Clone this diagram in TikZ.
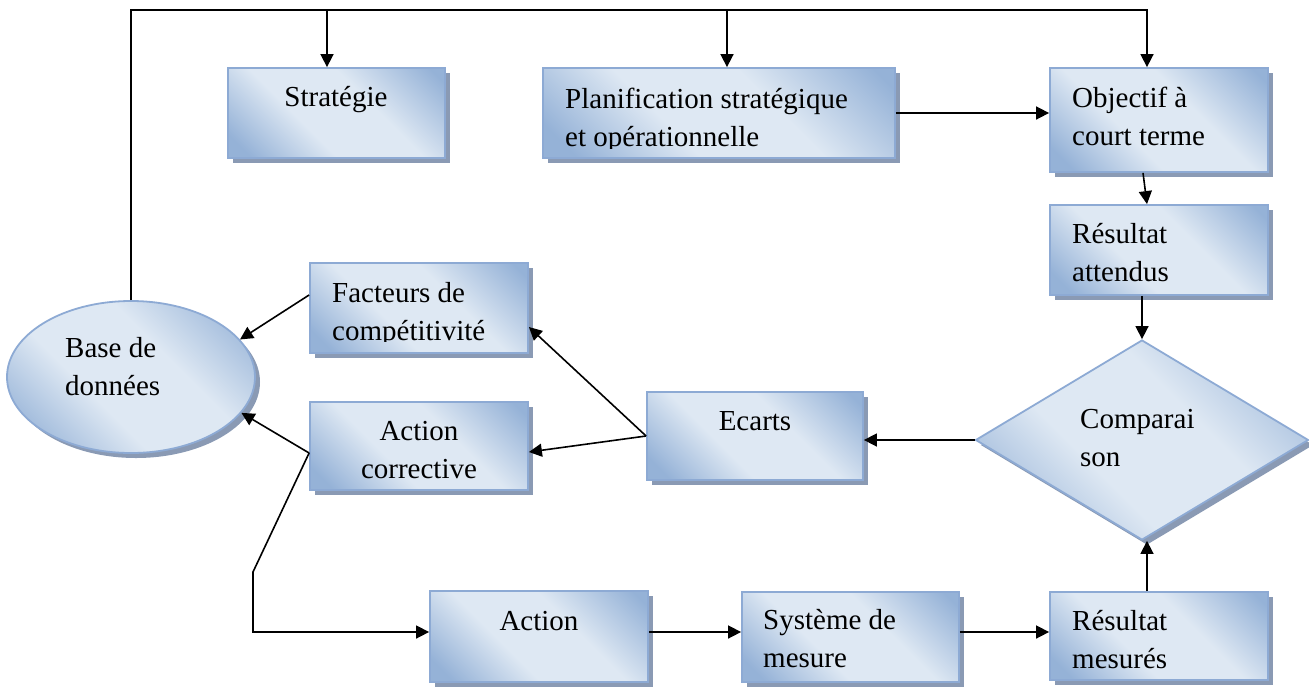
\documentclass[tikz,border=0pt]{standalone}
\usepackage{fontspec}
\setmainfont{Liberation Serif}
\usetikzlibrary{arrows.meta,shapes.geometric,shadows}

\definecolor{boxdark}{RGB}{149,178,215}
\definecolor{boxlight}{RGB}{222,232,243}
\definecolor{boxline}{RGB}{141,170,212}
\definecolor{boxshadow}{RGB}{138,154,180}

% diagonal fill: darker corners, light band through the middle
\pgfdeclarehorizontalshading{boxfade}{100bp}{color(0bp)=(boxdark); color(20bp)=(boxdark); color(40bp)=(boxlight); color(60bp)=(boxlight); color(82bp)=(boxdark); color(100bp)=(boxdark)}

\tikzset{
  shapebase/.style={draw=boxline, line width=1.8pt, shading=boxfade, shading angle=45,
    drop shadow={shadow xshift=5pt, shadow yshift=-5pt, fill=boxshadow, opacity=1},
    inner sep=0pt},
  stepbox/.style={shapebase, rectangle},
  txt/.style={inner sep=0pt, font=\fontsize{29}{38.5}\selectfont, align=left, anchor=north west},
  ctxt/.style={txt, align=center, anchor=north},
  link/.style={line width=1.6pt, -{Triangle[length=13pt,width=13pt]}},
}

\begin{document}
\begin{tikzpicture}[x=1pt,y=-1pt]
\useasboundingbox (0,0) rectangle (1309,686);

% ---- shapes ----
\node[stepbox, minimum width=217pt, minimum height=90pt] (strat) at (336.5,113) {};
\node[stepbox, minimum width=352pt, minimum height=90pt] (plan) at (719,113) {};
\node[stepbox, minimum width=218pt, minimum height=104pt] (obj) at (1159,120) {};
\node[stepbox, minimum width=218pt, minimum height=90pt] (ratt) at (1159,250) {};
\node[stepbox, minimum width=218pt, minimum height=90pt] (fac) at (419,308) {};
\node[stepbox, minimum width=218pt, minimum height=88pt] (acor) at (419,446) {};
\node[stepbox, minimum width=216pt, minimum height=88pt] (eca) at (755,436) {};
\node[stepbox, minimum width=218pt, minimum height=91pt] (act) at (539,636.5) {};
\node[stepbox, minimum width=217pt, minimum height=90pt] (sys) at (850.5,637) {};
\node[stepbox, minimum width=218pt, minimum height=88pt] (rmes) at (1159,636) {};
\node[shapebase, ellipse, minimum width=248pt, minimum height=152pt] (base) at (131,377) {};
\node[shapebase, diamond, minimum width=333pt, minimum height=200pt] (cmp) at (1142,440) {};

% ---- labels ----
\node[ctxt] (strat-t) at (336,79) {\strut Stratégie};
\begin{scope}
  \clip (543,68) rectangle (895,148);
  \node[txt] (plan-t) at (565,81) {\strut Planification stratégique\\et opérationnelle};
\end{scope}
\node[txt] (obj-t) at (1072,80) {\strut Objectif à\\court terme};
\node[txt] (ratt-t) at (1072,216) {\strut Résultat\\attendus};
\begin{scope}
  \clip (310,263) rectangle (528,341);
  \node[txt] (fac-t) at (332,275) {\strut Facteurs de\\compétitivité};
\end{scope}
\node[ctxt] (acor-t) at (419,413) {\strut Action\\corrective};
\node[ctxt] (eca-t) at (755,403) {\strut Ecarts};
\node[ctxt] (act-t) at (539,603) {\strut Action};
\node[txt] (sys-t) at (763,602) {\strut Système de\\mesure};
\node[txt] (rmes-t) at (1072,603) {\strut Résultat\\mesurés};
\node[txt] (base-t) at (65,330) {\strut Base de\\données};
\node[txt] (cmp-t) at (1080,401) {\strut Comparai\\son};

% ---- connectors ----
\coordinate (topR) at (1147,10);
\coordinate (dStrat) at (327,10);
\coordinate (dPlan) at (727,10);
\coordinate (bend) at (253,572);
\coordinate (actIn) at ([yshift=4.5pt]act.west);
\coordinate (actOut) at ([yshift=4.5pt]act.east);

\draw[link] (base.north) |- (topR) -- (topR |- obj.north);
\draw[link] (dStrat) -- (dStrat |- strat.north);
\draw[link] (dPlan) -- (dPlan |- plan.north);
\draw[link] (plan.east) -- (plan.east -| obj.west);
\draw[link] ([xshift=-16pt]obj.south) -- ([xshift=-12pt]ratt.north);
\draw[link] (ratt.south -| cmp.north) -- (cmp.north);
\draw[link] ([xshift=5pt]rmes.north -| cmp.south) -- ([xshift=5pt]cmp.south);
\draw[link] (cmp.west) -- (cmp.west -| eca.east);
\draw[link] (eca.west) -- ([yshift=-19pt]fac.east);
\draw[link] (eca.west) -- ([yshift=-6pt]acor.east);
\draw[link] ([yshift=13pt]fac.west) -- (base.19);
\draw[link] ([yshift=-7pt]acor.west) -- (base.-18);
\draw[link] ([yshift=-7pt]acor.west) -- (bend) -- (bend |- actIn) -- (actIn);
\draw[link] (actOut) -- (actOut -| sys.west);
\draw[link] (actOut -| sys.east) -- (actOut -| rmes.west);
\end{tikzpicture}
\end{document}
